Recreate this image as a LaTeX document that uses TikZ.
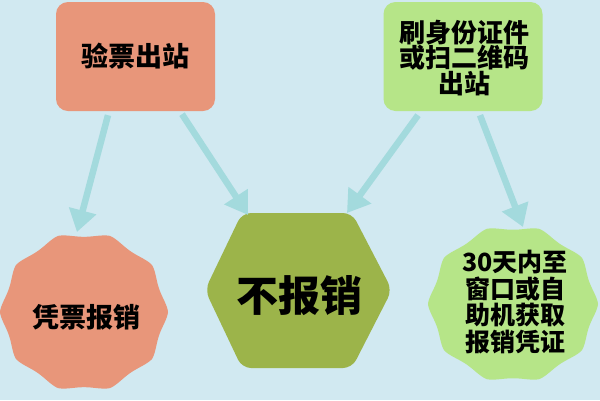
\documentclass[tikz,border=0pt]{standalone}
\usepackage{fontspec}
\setmainfont{Noto Sans CJK SC}
\usetikzlibrary{arrows.meta,calc}
\definecolor{bgc}{HTML}{D1E9F1}
\definecolor{arrc}{HTML}{A3DADD}
\definecolor{salmon}{HTML}{E8967A}
\definecolor{lgreen}{HTML}{B6E588}
\definecolor{olive}{HTML}{9CB44A}
\newcommand{\tightlines}{\lineskiplimit=-50pt\relax}
\tikzset{
  boxnode/.style={rectangle, rounded corners=12pt, minimum width=159pt, minimum height=109pt, inner sep=0pt, align=center},
  txt/.style={inner sep=0pt, align=center},
  arr/.style={draw=arrc, line width=6.5pt, -{Triangle[width=27pt,length=22pt]}, arrc}
}
\begin{document}
\begin{tikzpicture}[x=1pt,y=-1pt]
\fill[bgc] (0,0) rectangle (600,400);
\useasboundingbox (0,0) rectangle (600,400);
% top boxes
\node[boxnode, fill=salmon, font=\bfseries\fontsize{27}{30}\selectfont] (b1) at (135.5,56.5) {验票出站};
\node[boxnode, fill=lgreen] (b2) at (463,56.5) {};
\node[txt, font={\bfseries\fontsize{26}{25.5}\selectfont\tightlines}] (t2) at (464,58) {刷身份证件\\或扫二维码\\出站};
% left wavy shape
\fill[salmon] plot[domain=0:360, samples=360, smooth] ({84+84*(1-0.06*abs(sin(5*\x))^1.4)*cos(\x)}, {312+80*(1-0.06*abs(sin(5*\x))^1.4)*sin(\x)}) -- cycle;
\node[txt, font=\bfseries\fontsize{27}{30}\selectfont] (w1) at (86,317) {凭票报销};
% hexagon
\fill[olive, rounded corners=9pt] (205,290) -- (242,213) -- (352,213) -- (392,290) -- (352,368) -- (242,368) -- cycle;
\node[txt, font=\bfseries\fontsize{42}{44}\selectfont] (hx) at (299,296) {不报销};
% right wavy shape
\fill[lgreen] plot[domain=0:360, samples=360, smooth] ({513+85*(1-0.06*abs(sin(5*\x))^1.4)*cos(\x)}, {304+79*(1-0.06*abs(sin(5*\x))^1.4)*sin(\x)}) -- cycle;
\node[txt, font={\bfseries\fontsize{25}{26.7}\selectfont\tightlines}] (w2) at (515,302) {30天内至\\窗口或自\\助机获取\\报销凭证};
% arrows
\draw[arr] ($(b1.south)+(-27.5,4)$) -- ($(w1.center)+(-9,-85)$);
\draw[arr] ($(b1.south)+(46.5,3)$) -- ($(hx.center)+(-51,-81)$);
\draw[arr] ($(b2.south)+(-45,4)$) -- ($(hx.center)+(48,-83)$);
\draw[arr] ($(b2.south)+(17,4)$) -- ($(w2.center)+(8,-75)$);
\end{tikzpicture}
\end{document}
